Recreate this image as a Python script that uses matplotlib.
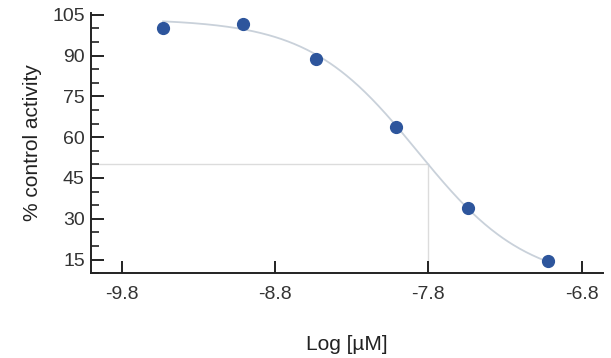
import numpy as np
import matplotlib.pyplot as plt

plt.rcParams['font.family'] = ['Liberation Sans', 'DejaVu Sans']

log_conc = [-9.53, -9.01, -8.53, -8.01, -7.54, -7.02]
activity = [100.2, 101.7, 88.8, 63.8, 34.0, 14.6]

# 4PL fit parameters
top, bottom, log_ic50, hill = 103.5, 6.0, -7.87, 1.22
half_x, half_y = -7.8, 50

xticks = [-9.8, -8.8, -7.8, -6.8]
yticks = [15, 30, 45, 60, 75, 90, 105]

def logistic(x):
    return bottom + (top - bottom) / (1 + 10 ** (hill * (x - log_ic50)))

fig = plt.figure(figsize=(6.11, 3.58), dpi=100)
ax = fig.add_axes([0.149, 0.237, 0.838, 0.727])

xs = np.linspace(min(log_conc), max(log_conc), 300)
ax.plot(xs, logistic(xs), color='#c9d1da', lw=1.3, zorder=2)
ax.plot([-10, half_x], [half_y, half_y], color='#dcdcdc', lw=1.0, zorder=1)
ax.plot([half_x, half_x], [10.2, half_y], color='#dcdcdc', lw=1.0, zorder=1)
ax.plot(log_conc, activity, 'o', color='#2d559c', ms=8.5, zorder=3)

ax.set_xlim(-10, -6.66)
ax.set_ylim(10.2, 105.7)
ax.set_xticks(xticks)
ax.set_xticklabels([str(t) for t in xticks])
ax.set_yticks(yticks)
ax.set_yticks(np.arange(10, 106, 5), minor=True)

for s in ['top', 'right']:
    ax.spines[s].set_visible(False)
for s in ['left', 'bottom']:
    ax.spines[s].set_linewidth(1.4)
    ax.spines[s].set_color('#222222')

ax.tick_params(axis='both', which='major', direction='in', length=9, width=1.4,
               colors='#222222', labelcolor='#333333', labelsize=14)
ax.tick_params(axis='y', which='minor', direction='in', length=6, width=1.2, colors='#222222')
ax.tick_params(axis='x', pad=9)
ax.tick_params(axis='y', pad=4.5)

ax.set_xlabel('Log [µM]', fontsize=15, color='#222222', labelpad=23)
ax.set_ylabel('% control activity', fontsize=15, color='#222222', labelpad=7)

fig.savefig('out.png', dpi=100)
